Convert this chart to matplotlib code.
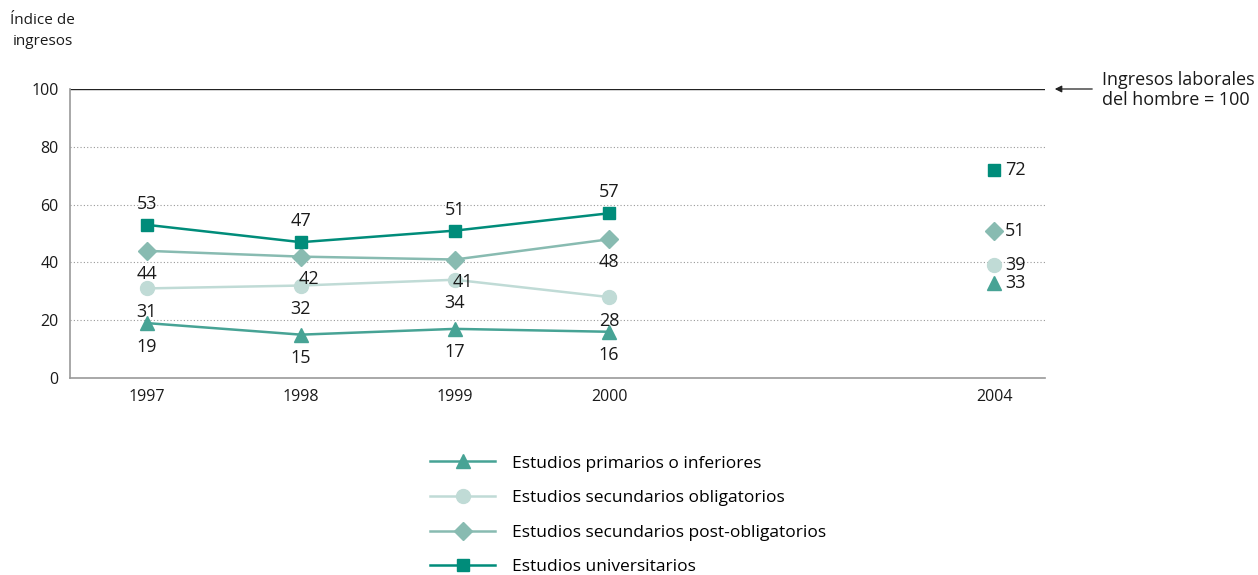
import matplotlib.pyplot as plt

plt.rcParams["font.family"] = ["Open Sans", "DejaVu Sans"]

years = ["1997", "1998", "1999", "2000", "2004"]
x_pos = [0, 1, 2, 3, 5.5]

primarios = [19, 15, 17, 16, 33]
sec_oblig = [31, 32, 34, 28, 39]
sec_post = [44, 42, 41, 48, 51]
universitarios = [53, 47, 51, 57, 72]

series = [
    ("Estudios primarios o inferiores", primarios, "#47a395", "^", 10),
    ("Estudios secundarios obligatorios", sec_oblig, "#c0dbd6", "o", 10),
    ("Estudios secundarios post-obligatorios", sec_post, "#88bbb1", "D", 9),
    ("Estudios universitarios", universitarios, "#008c7a", "s", 9),
]

# label offsets (points) for the connected years; 2004 labels go to the right
offsets = {
    "Estudios primarios o inferiores": [(0, -17)] * 4,
    "Estudios secundarios obligatorios": [(0, -17)] * 4,
    "Estudios secundarios post-obligatorios": [(0, -17), (6, -16), (6, -16), (0, -16)],
    "Estudios universitarios": [(0, 15)] * 4,
}

txt = "#1a1a1a"

fig = plt.figure(figsize=(12.58, 5.75), dpi=100)
ax = fig.add_axes([0.0556, 0.3426, 0.775, 0.5026])

handles = []
for name, vals, col, mk, ms in series:
    h, = ax.plot(x_pos[:4], vals[:4], color=col, lw=1.8, marker=mk, ms=ms,
                 mec=col, mfc=col, label=name, zorder=3)
    ax.plot(x_pos[4], vals[4], color=col, marker=mk, ms=ms, mec=col, mfc=col, zorder=3)
    handles.append(h)
    for i in range(4):
        dx, dy = offsets[name][i]
        ax.annotate(str(vals[i]), (x_pos[i], vals[i]), xytext=(dx, dy),
                    textcoords="offset points", ha="center", va="center",
                    fontsize=13, color=txt)
    ax.annotate(str(vals[4]), (x_pos[4], vals[4]), xytext=(8, 0),
                textcoords="offset points", ha="left", va="center",
                fontsize=13, color=txt)

ax.set_xlim(-0.5, 5.83)
ax.set_ylim(0, 100)
ax.set_yticks([0, 20, 40, 60, 80, 100])
ax.set_xticks(x_pos)
ax.set_xticklabels(years)
ax.tick_params(length=0, labelsize=11.5, colors=txt, pad=8)

for y in [20, 40, 60, 80]:
    ax.axhline(y, color="#999999", lw=0.8, ls=(0, (1, 2)), zorder=1)
ax.axhline(100, color="#222222", lw=1.0, zorder=2)

for s in ["top", "right"]:
    ax.spines[s].set_visible(False)
ax.spines["left"].set_color("#999999")
ax.spines["bottom"].set_color("#999999")
ax.spines["left"].set_linewidth(1.2)
ax.spines["bottom"].set_linewidth(1.2)

fig.text(0.034, 0.978, "Índice de\ningresos", ha="center", va="top",
         fontsize=11, color=txt, linespacing=1.55)

ax.annotate("", xy=(1052 / 1258, 1 - 89 / 575), xycoords="figure fraction",
            xytext=(1095 / 1258, 1 - 89 / 575), textcoords="figure fraction",
            arrowprops=dict(arrowstyle="-|>", color="#222222", lw=0.9,
                            mutation_scale=10))
fig.text(1102 / 1258, 1 - 90 / 575, "Ingresos laborales\ndel hombre = 100",
         ha="left", va="center", fontsize=13, color=txt, linespacing=1.15)

fig.legend(handles=handles, loc="upper left", bbox_to_anchor=(0.342, 0.208),
           frameon=False, fontsize=12.5, handlelength=3.75, labelspacing=1.06,
           handletextpad=0.98, borderaxespad=0, borderpad=0)

fig.savefig("out.png", dpi=100)
